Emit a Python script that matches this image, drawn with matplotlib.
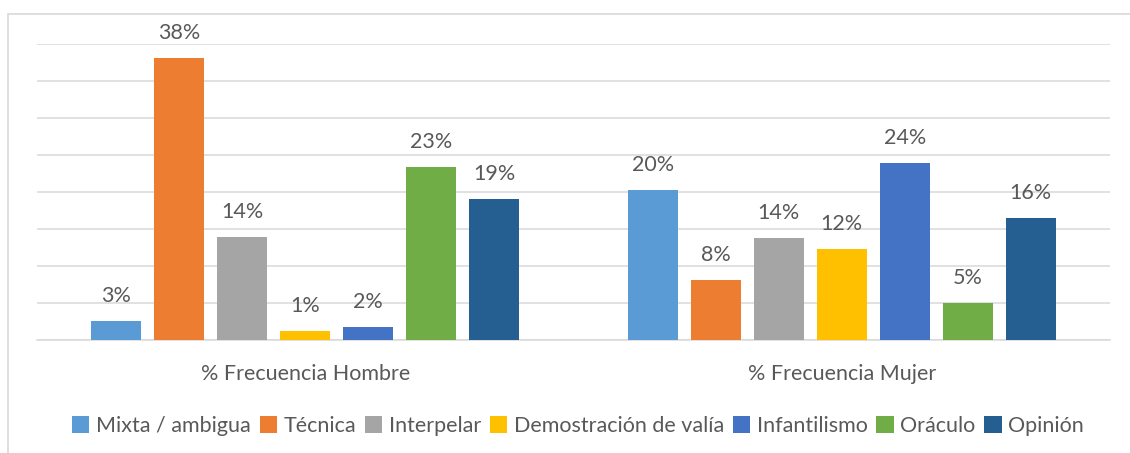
import matplotlib
matplotlib.use("Agg")
import matplotlib.pyplot as plt
from matplotlib.patches import Rectangle
import numpy as np

categories = ["% Frecuencia Hombre", "% Frecuencia Mujer"]
series = ["Mixta / ambigua", "Técnica", "Interpelar", "Demostración de valía",
          "Infantilismo", "Oráculo", "Opinión"]
hombre = [2.6, 38.1, 13.9, 1.2, 1.8, 23.4, 19.1]
mujer = [20.3, 8.1, 13.8, 12.3, 23.9, 5.0, 16.5]
colors = ["#5B9BD5", "#ED7D31", "#A5A5A5", "#FFC000", "#4472C4", "#70AD47", "#255E91"]

plt.rcParams["font.family"] = ["Lato", "DejaVu Sans"]
text_color = "#595959"
grid_color = "#D9D9D9"
fs = 15.5

W, H = 1130, 453
fig = plt.figure(figsize=(W / 100, H / 100), dpi=100)
fig.patches.append(Rectangle((8 / W, -0.1), 1.2, (H - 14) / H + 0.1,
                             transform=fig.transFigure, fill=False,
                             edgecolor=grid_color, linewidth=1.2, zorder=0))

ax = fig.add_axes([37 / W, (H - 340) / H, (1110 - 37) / W, (340 - 44) / H])
x = np.arange(len(categories))
bar_w = 50 / 536.5
step = 63 / 536.5
n = len(series)
for i, (name, col) in enumerate(zip(series, colors)):
    vals = [hombre[i], mujer[i]]
    pos = x + (i - (n - 1) / 2) * step
    bars = ax.bar(pos, vals, width=bar_w, color=col, label=name, zorder=3)
    for b, v in zip(bars, vals):
        ax.text(b.get_x() + b.get_width() / 2, v + 2.0, f"{round(v):.0f}%",
                ha="center", va="bottom", fontsize=fs, color=text_color)

ax.set_xlim(-0.5, 1.5)
ax.set_ylim(0, 40)
ax.set_yticks(np.arange(0, 41, 5))
ax.yaxis.grid(True, color=grid_color, linewidth=1.1, zorder=0)
ax.tick_params(axis="y", length=0, labelleft=False)
ax.tick_params(axis="x", length=0, pad=17, labelsize=fs, labelcolor=text_color)
ax.set_xticks(x)
ax.set_xticklabels(categories)
for s in ["top", "right", "left"]:
    ax.spines[s].set_visible(False)
ax.spines["bottom"].set_color(grid_color)
ax.spines["bottom"].set_linewidth(1.1)

fig.legend(loc="center", bbox_to_anchor=(578 / W, (H - 426) / H), ncol=7,
           frameon=False, fontsize=fs, labelcolor=text_color,
           handlelength=0.8, handleheight=0.8, handletextpad=0.3,
           columnspacing=0.42)

fig.savefig("out.png", dpi=100)
